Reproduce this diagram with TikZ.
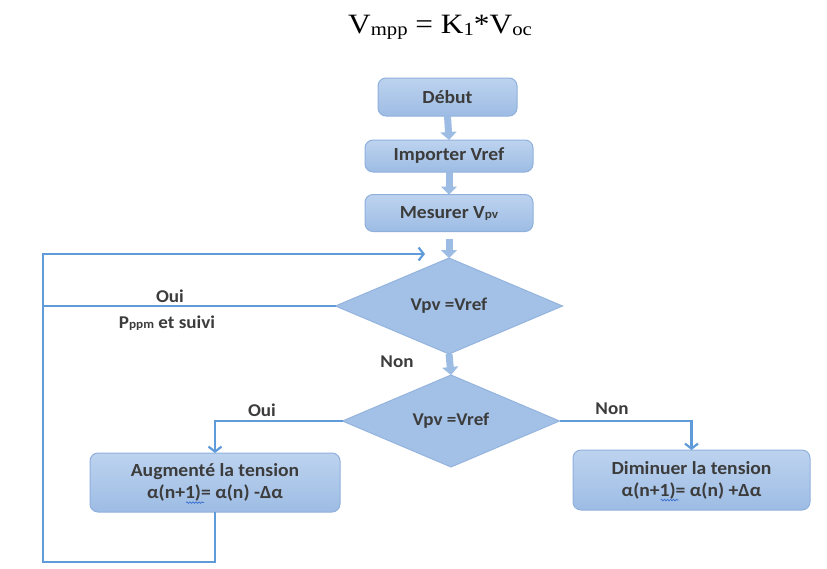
\documentclass[tikz,border=0pt]{standalone}
\usepackage{fontspec}
\setmainfont{Carlito}[FakeStretch=1.06]
\newfontfamily\titlefont{Liberation Serif}[FakeStretch=1.12]
\usetikzlibrary{shapes.geometric,arrows.meta,calc,decorations.pathmorphing}
\definecolor{boxtop}{HTML}{BDD3EF}
\definecolor{boxbot}{HTML}{9DBCE4}
\definecolor{boxborder}{HTML}{8FB0DC}
\definecolor{dfill}{HTML}{A3C1E6}
\definecolor{dborder}{HTML}{94B4DE}
\definecolor{linec}{HTML}{5F9BD8}
\definecolor{blkc}{HTML}{9CBCE4}
\definecolor{txt}{HTML}{3C3C3C}
\definecolor{wavec}{HTML}{3A6FD0}
\newcommand\smallsub[1]{{\fontsize{12.5}{12.5}\selectfont #1}}
\newcommand\wavy[1]{\tikz[baseline=(w.base)]{\node[rectangle, minimum width=0pt, minimum height=0pt, inner sep=0pt, outer sep=0pt, draw=none, fill=none, rounded corners=0pt] (w) {#1};%
  \draw[overlay, draw=wavec, line width=0.7pt, rounded corners=0pt, decorate, decoration={snake, amplitude=0.8pt, segment length=3pt}]
    ($(w.base west)+(1,4)$) -- ($(w.base east)+(3,4)$);}}
\begin{document}
\begin{tikzpicture}[x=1pt,y=-1pt,
  box/.style={draw=boxborder, line width=1pt, rounded corners=8pt, top color=boxtop, bottom color=boxbot,
    text=txt, font=\bfseries\fontsize{18.5}{22}\selectfont, align=center, inner sep=0pt, outer sep=0pt},
  dec/.style={diamond, draw=dborder, line width=1pt, fill=dfill, text=txt,
    font=\bfseries\fontsize{18}{20}\selectfont, inner sep=0pt, outer sep=0pt},
  conn/.style={draw=linec, line width=2.2pt},
  arr/.style={conn, -{Straight Barb[length=5pt,width=13pt]}},
  blk/.style={draw=blkc, line width=7pt, -{Triangle[width=16pt,length=8pt]}},
  lbl/.style={text=txt, font=\bfseries\fontsize{18}{20}\selectfont, inner sep=0pt}]
\useasboundingbox (0,0) rectangle (827,568);
% title
\node[font=\titlefont\fontsize{28}{30}\selectfont, anchor=base, inner sep=0pt] (title) at (440,33)
  {V\raisebox{-2pt}{\fontsize{18.5}{20}\selectfont mpp} = K\raisebox{-2pt}{\fontsize{18.5}{20}\selectfont 1}*V\raisebox{-2pt}{\fontsize{18.5}{20}\selectfont oc}};
% boxes
\node[box, minimum width=139pt, minimum height=38pt] (debut) at (447.5,97) {Début};
\node[box, minimum width=168pt, minimum height=32pt] (importer) at (449,156) {Importer Vref};
\node[box, minimum width=168pt, minimum height=37pt] (mesurer) at (449,213) {Mesurer V\smallsub{pv}};
\node[dec, minimum width=227pt, minimum height=96pt, aspect=2.36] (d1) at (449,306) {Vpv =Vref};
\node[dec, minimum width=217pt, minimum height=92pt, aspect=2.36] (d2) at (451,421) {Vpv =Vref};
\node[box, minimum width=250pt, minimum height=59pt] (lbox) at (215,482.5)
  {Augmenté la tension\\ α(n+\wavy{1)}= α(n) -Δα};
\node[box, minimum width=237pt, minimum height=60pt] (rbox) at (691.5,480)
  {Diminuer la tension\\ α(n+\wavy{1)}= α(n) +Δα};
% block arrows
\draw[blk] (debut.south) -- (importer.north);
\draw[blk] (importer.south) -- (mesurer.north);
\draw[blk] ($(mesurer.south)+(0,7)$) -- (d1.north);
\draw[blk] (d1.south) -- (d2.north);
% loop
\coordinate (cbr) at (215,562);
\coordinate (cbl) at (43,562);
\coordinate (ctl) at (43,254);
\coordinate (cend) at (425,254);
\draw[arr] (lbox.south) -- (cbr) -- (cbl) -- (ctl) -- (cend);
\draw[conn] (d1.west) -- (d1.west -| ctl);
\draw[arr] (d2.west) -| (lbox.north);
\draw[arr] (d2.east) -| (rbox.north);
% labels
\node[lbl] (oui1) at (170,296) {Oui};
\node[lbl] (ppm) at (167,323) {P\smallsub{ppm} et suivi};
\node[lbl] (non1) at (397,362) {Non};
\node[lbl] (oui2) at (262,410) {Oui};
\node[lbl] (non2) at (612,409) {Non};
\end{tikzpicture}
\end{document}
